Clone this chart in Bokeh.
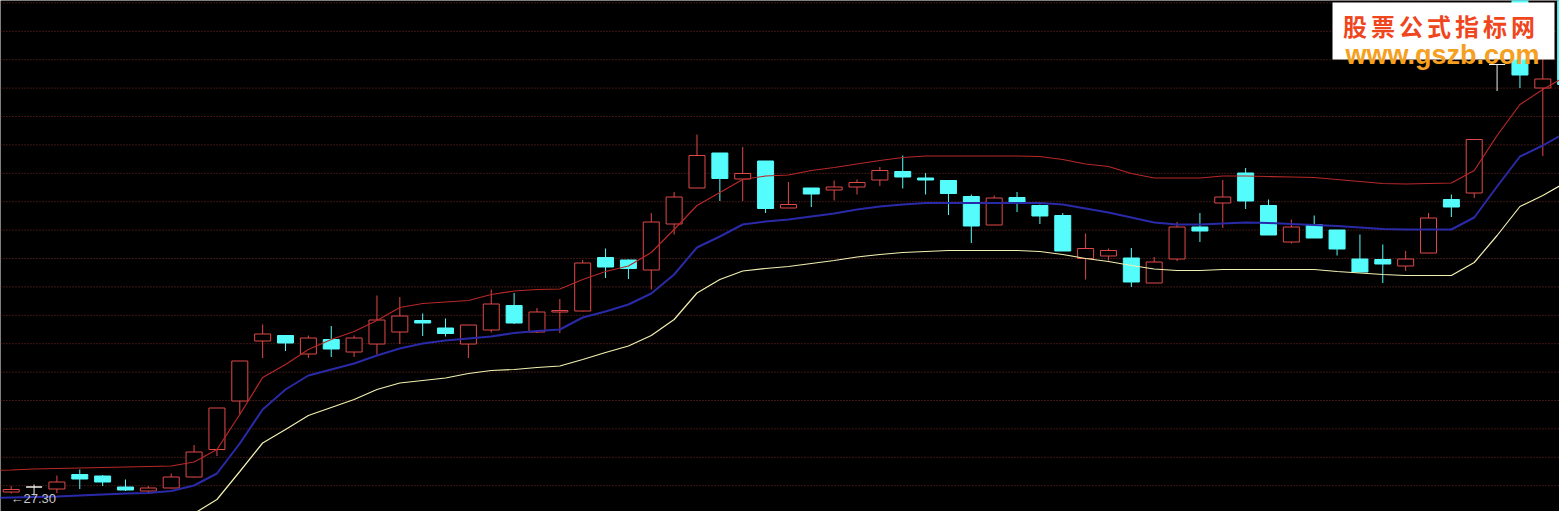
import numpy as np
from bokeh.plotting import figure
from bokeh.models import Range1d, Span, Label, BoxAnnotation, ColumnDataSource
from bokeh.embed import file_html
from bokeh.resources import INLINE

# ---- data (price units) ----
opens = [27.37, 27.47, 27.43, 27.72, 27.69, 27.47, 27.39, 27.45, 27.67, 28.22,
         29.19, 30.39, 30.50, 30.13, 30.42, 30.17, 30.33, 30.57, 30.80, 30.65,
         30.33, 30.61, 31.10, 30.57, 30.97, 30.99, 32.06, 32.01, 31.81, 32.73,
         33.45, 34.15, 33.63, 33.99, 33.05, 33.45, 33.41, 33.47, 33.61, 33.78,
         33.65, 33.60, 33.28, 32.71, 33.26, 33.10, 32.90, 32.04, 32.09, 32.05,
         31.55, 32.03, 32.67, 33.15, 33.75, 33.10, 32.37, 32.72, 32.61, 32.03,
         32.02, 31.89, 32.15, 33.22, 33.35, 35.92, 37.32, 35.45, 37.32]
highs = [27.49, 27.52, 27.70, 27.82, 27.71, 27.62, 27.49, 27.74, 28.31, 29.05,
         29.99, 30.72, 30.50, 30.50, 30.69, 30.50, 31.30, 31.27, 30.94, 30.84,
         30.71, 31.42, 31.35, 31.05, 31.23, 32.01, 32.24, 32.02, 32.95, 33.37,
         34.52, 34.15, 34.27, 33.99, 33.57, 33.45, 33.60, 33.62, 33.87, 34.10,
         33.75, 33.60, 33.32, 33.30, 33.37, 33.12, 32.95, 32.54, 32.24, 32.25,
         32.07, 32.77, 32.95, 33.61, 33.85, 33.22, 32.82, 32.90, 32.61, 32.52,
         32.32, 32.19, 32.95, 33.32, 34.42, 35.92, 37.42, 36.82, 37.40]
lows = [27.34, 27.30, 27.35, 27.43, 27.49, 27.39, 27.35, 27.44, 27.66, 28.09,
        28.92, 30.05, 30.19, 30.05, 30.07, 30.07, 30.12, 30.33, 30.49, 30.48,
        30.05, 30.56, 30.73, 30.55, 30.55, 30.98, 31.65, 31.63, 31.42, 32.52,
        33.45, 33.19, 33.19, 32.95, 33.05, 33.07, 33.20, 33.32, 33.49, 33.44,
        33.32, 32.91, 32.35, 32.71, 32.97, 32.73, 32.19, 31.62, 32.00, 31.47,
        31.55, 31.99, 32.37, 32.65, 33.03, 32.51, 32.34, 32.45, 32.10, 31.77,
        31.55, 31.79, 32.15, 32.87, 33.25, 35.39, 35.45, 34.09, 35.42]
closes = [27.42, 27.47, 27.57, 27.63, 27.57, 27.41, 27.45, 27.67, 28.17, 29.05,
          29.99, 30.53, 30.35, 30.45, 30.23, 30.45, 30.81, 30.89, 30.75, 30.54,
          30.71, 31.13, 30.75, 30.97, 31.00, 31.95, 31.87, 31.84, 32.77, 33.27,
          34.10, 33.64, 33.74, 33.04, 33.12, 33.33, 33.47, 33.56, 33.80, 33.67,
          33.61, 33.34, 32.69, 33.25, 33.14, 32.89, 32.19, 32.24, 32.20, 31.57,
          31.97, 32.67, 32.59, 33.27, 33.19, 32.51, 32.67, 32.45, 32.23, 31.77,
          31.93, 32.03, 32.85, 33.07, 34.42, 35.92, 35.71, 35.63, 35.52]
# band values start one bar before the first visible candle
upper_band = [27.80,
              27.81, 27.83, 27.84, 27.85, 27.86, 27.87, 27.88, 27.89, 27.97, 28.22,
              28.92, 29.66, 29.92, 30.22, 30.42, 30.58, 30.80, 31.06, 31.14, 31.17,
              31.20, 31.32, 31.39, 31.42, 31.43, 31.62, 31.78, 31.89, 32.16, 32.62,
              33.10, 33.36, 33.62, 33.69, 33.71, 33.80, 33.86, 33.93, 34.00, 34.06,
              34.09, 34.09, 34.09, 34.09, 34.09, 34.08, 34.02, 33.93, 33.88, 33.74,
              33.65, 33.65, 33.65, 33.69, 33.69, 33.68, 33.67, 33.66, 33.62, 33.58,
              33.54, 33.53, 33.54, 33.55, 33.80, 34.50, 35.12, 35.42, 35.68]
middle_band = [27.25,
               27.26, 27.27, 27.28, 27.30, 27.32, 27.34, 27.35, 27.39, 27.50, 27.74,
               28.34, 29.02, 29.42, 29.70, 29.82, 29.94, 30.10, 30.24, 30.34, 30.40,
               30.44, 30.48, 30.55, 30.59, 30.62, 30.86, 30.98, 31.12, 31.34, 31.72,
               32.26, 32.48, 32.72, 32.78, 32.82, 32.88, 32.94, 33.02, 33.08, 33.12,
               33.15, 33.15, 33.15, 33.15, 33.15, 33.15, 33.12, 33.04, 32.96, 32.86,
               32.76, 32.72, 32.72, 32.74, 32.76, 32.75, 32.73, 32.71, 32.69, 32.66,
               32.63, 32.62, 32.62, 32.62, 32.86, 33.48, 34.08, 34.30, 34.56]
lower_band = [26.70,
              26.70, 26.71, 26.72, 26.75, 26.78, 26.81, 26.83, 26.88, 26.94, 27.22,
              27.78, 28.35, 28.62, 28.90, 29.06, 29.22, 29.42, 29.55, 29.60, 29.65,
              29.74, 29.80, 29.82, 29.86, 29.89, 30.02, 30.16, 30.29, 30.50, 30.82,
              31.35, 31.62, 31.79, 31.84, 31.88, 31.94, 32.00, 32.07, 32.12, 32.16,
              32.18, 32.20, 32.20, 32.20, 32.20, 32.18, 32.12, 32.04, 31.98, 31.90,
              31.83, 31.80, 31.80, 31.82, 31.82, 31.82, 31.82, 31.82, 31.78, 31.75,
              31.72, 31.70, 31.70, 31.70, 31.96, 32.50, 33.08, 33.30, 33.56]
low_label = "\u219027.30"
watermark_title = "股票公式指标网"
watermark_url = "www.gszb.com"

# ---- styles ----
UP = "#e04848"
DOWN = "#54fcfc"
FLAT = "#f0f0f0"
BG = "#000000"

n = len(opens)
xs = np.arange(n)
bx = np.arange(-1, n)
o = np.array(opens); c = np.array(closes); h = np.array(highs); l = np.array(lows)
top = np.maximum(o, c); bot = np.minimum(o, c)
colors = np.where(c > o, UP, np.where(c < o, DOWN, FLAT))
fills = np.where(c < o, DOWN, BG)

src = ColumnDataSource(dict(x=xs, top=top, bot=bot, high=h, low=l, col=colors, fill=fills))

p = figure(width=1559, height=511, output_backend="svg", toolbar_location=None,
           x_range=Range1d(-0.468, 67.73), y_range=Range1d(26.98, 37.20),
           min_border=0, background_fill_color=BG, border_fill_color=BG)
p.outline_line_color = None
p.xaxis.visible = False
p.yaxis.visible = False
p.xgrid.visible = False
p.ygrid.visible = False

# dotted horizontal grid (under the candles)
for j in range(18):
    p.add_layout(Span(location=37.152 - 0.568 * j, dimension="width", level="underlay",
                      line_color="#7a2e26", line_dash="1 2", line_width=1))

# candles
p.segment(x0="x", y0="high", x1="x", y1="top", color="col", line_width=1, source=src)
p.segment(x0="x", y0="bot", x1="x", y1="low", color="col", line_width=1, source=src)
p.vbar(x="x", top="top", bottom="bot", width=0.7, fill_color="fill",
       line_color="col", line_width=1, source=src)

# bands
p.line(bx, upper_band, line_color="#b82828", line_width=1.2)
p.line(bx, middle_band, line_color="#2a2aa8", line_width=2)
p.line(bx, lower_band, line_color="#f2f0b0", line_width=1.2)

# low label
p.add_layout(Label(x=10, y=13, x_units="screen", y_units="screen", text=low_label,
                   text_color="#c8c8c8", text_font_size="13px", text_font="Liberation Sans",
                   text_baseline="middle", text_align="left"))

# watermark
p.add_layout(BoxAnnotation(left=1332, right=1554, top=509, bottom=452,
                           left_units="screen", right_units="screen",
                           top_units="screen", bottom_units="screen",
                           fill_color="#ffffff", fill_alpha=1.0, line_color=None))
cx0, pitch = 1354.5, 28.0
for k, ch in enumerate(watermark_title):
    p.add_layout(Label(x=cx0 + k * pitch, y=486, x_units="screen", y_units="screen",
                       text=ch, text_color="#f0461e", text_font_size="24px",
                       text_font="Noto Sans CJK SC", text_font_style="bold",
                       text_align="center", text_baseline="middle"))
p.add_layout(Label(x=1442, y=457, x_units="screen", y_units="screen",
                   text=watermark_url, text_color="#f5a01e", text_font_size="27px",
                   text_font="Liberation Sans", text_font_style="bold",
                   text_align="center", text_baseline="alphabetic"))

open("out.html", "w").write(file_html(p, INLINE))
